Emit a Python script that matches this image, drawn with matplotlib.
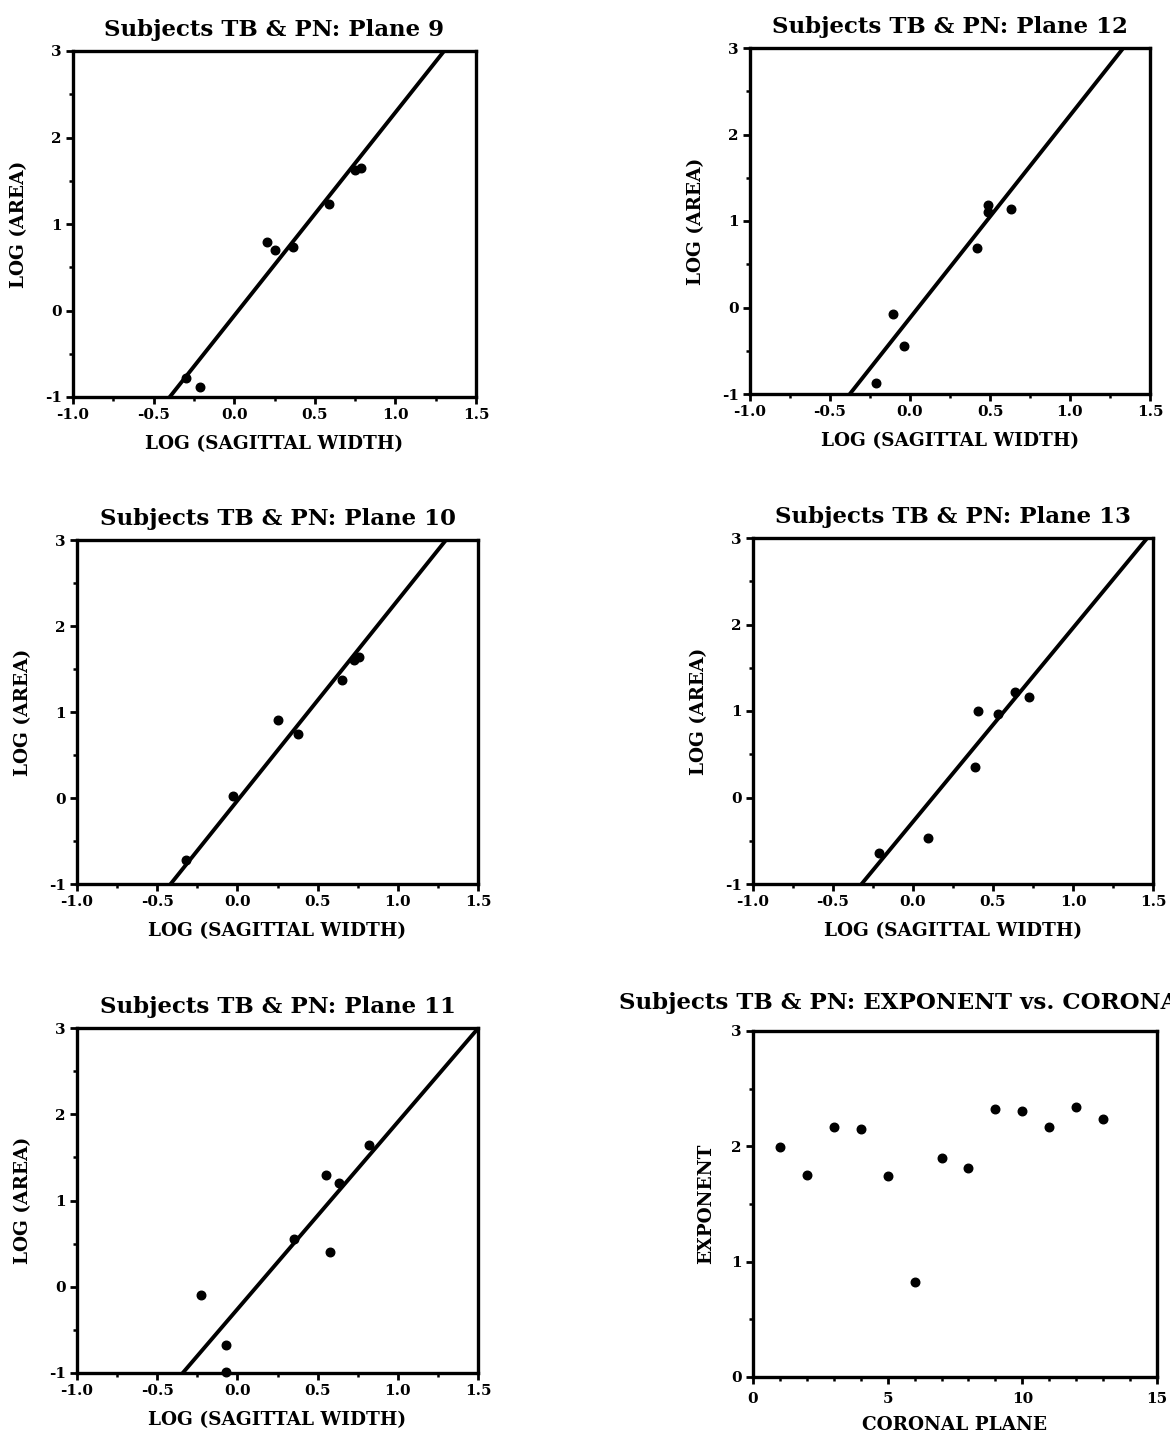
import matplotlib
matplotlib.use("Agg")
import matplotlib.pyplot as plt
import numpy as np
from matplotlib.ticker import MultipleLocator, FixedLocator

plt.rcParams['font.family'] = ['DejaVu Serif']
plt.rcParams['font.weight'] = 'bold'

# ---- data ----
p9_x = [-0.30, -0.215, 0.205, 0.25, 0.365, 0.59, 0.75, 0.785]
p9_y = [-0.78, -0.88, 0.79, 0.70, 0.73, 1.23, 1.62, 1.65]
p9_fit = [-0.06, 2.35]   # intercept, slope

p12_x = [-0.215, -0.105, -0.04, 0.42, 0.49, 0.49, 0.63]
p12_y = [-0.87, -0.07, -0.44, 0.69, 1.18, 1.10, 1.14]
p12_fit = [-0.12, 2.34]

p10_x = [-0.32, -0.025, 0.25, 0.375, 0.65, 0.73, 0.76]
p10_y = [-0.72, 0.02, 0.91, 0.75, 1.37, 1.60, 1.64]
p10_fit = [-0.03, 2.33]

p13_x = [-0.215, 0.095, 0.39, 0.405, 0.53, 0.635, 0.725]
p13_y = [-0.64, -0.47, 0.35, 1.00, 0.96, 1.22, 1.16]
p13_fit = [-0.28, 2.24]

p11_x = [-0.225, -0.07, -0.07, 0.355, 0.55, 0.58, 0.635, 0.82]
p11_y = [-0.09, -0.67, -0.99, 0.55, 1.30, 0.40, 1.20, 1.64]
p11_fit = [-0.26, 2.17]

planes = [1, 2, 3, 4, 5, 6, 7, 8, 9, 10, 11, 12, 13]
exponents = [1.99, 1.75, 2.17, 2.15, 1.74, 0.82, 1.90, 1.81, 2.32, 2.31, 2.17, 2.34, 2.24]

W, H = 1170, 1433
fig = plt.figure(figsize=(W / 100, H / 100), dpi=100)

def rect(x0, x1, ytop, ybot):
    return [x0 / W, (H - ybot) / H, (x1 - x0) / W, (ybot - ytop) / H]

TICKFS = 11
LABFS = 13.3
TITFS = 16.5

def style(ax):
    for s in ax.spines.values():
        s.set_linewidth(2.4)
    ax.tick_params(which='major', direction='out', length=5, width=2, labelsize=TICKFS, pad=3)
    ax.tick_params(which='minor', direction='out', length=3, width=1.8)
    for lab in ax.get_xticklabels() + ax.get_yticklabels():
        lab.set_fontweight('bold')

def log_panel(r, title, xs, ys, fit):
    ax = fig.add_axes(r)
    ax.set_xlim(-1.0, 1.5)
    ax.set_ylim(-1, 3)
    xx = np.linspace(-1.0, 1.5, 200)
    ax.plot(xx, fit[0] + fit[1] * xx, color='black', lw=2.8, zorder=2)
    ax.scatter(xs, ys, s=38, color='black', zorder=3, clip_on=False)
    ax.xaxis.set_major_locator(FixedLocator([-1.0, -0.5, 0.0, 0.5, 1.0, 1.5]))
    ax.xaxis.set_minor_locator(MultipleLocator(0.25))
    ax.yaxis.set_major_locator(FixedLocator([-1, 0, 1, 2, 3]))
    ax.yaxis.set_minor_locator(MultipleLocator(0.5))
    ax.set_xticklabels(['-1.0', '-0.5', '0.0', '0.5', '1.0', '1.5'])
    ax.set_yticklabels(['-1', '0', '1', '2', '3'])
    ax.set_title(title, fontsize=TITFS, fontweight='bold', pad=11)
    ax.set_xlabel('LOG (SAGITTAL WIDTH)', fontsize=LABFS, fontweight='bold', labelpad=9)
    ax.set_ylabel('LOG (AREA)', fontsize=LABFS, fontweight='bold', labelpad=12)
    style(ax)
    return ax

log_panel(rect(73, 476, 51, 397), 'Subjects TB & PN: Plane 9', p9_x, p9_y, p9_fit)
log_panel(rect(750, 1150, 48, 394), 'Subjects TB & PN: Plane 12', p12_x, p12_y, p12_fit)
log_panel(rect(77, 478, 540, 884), 'Subjects TB & PN: Plane 10', p10_x, p10_y, p10_fit)
log_panel(rect(753, 1153, 538, 884), 'Subjects TB & PN: Plane 13', p13_x, p13_y, p13_fit)
log_panel(rect(77, 478, 1028, 1373), 'Subjects TB & PN: Plane 11', p11_x, p11_y, p11_fit)

ax = fig.add_axes(rect(753, 1157, 1031, 1377))
ax.scatter(planes, exponents, s=38, color='black', zorder=3)
ax.set_xlim(0, 15)
ax.set_ylim(0, 3)
ax.xaxis.set_major_locator(FixedLocator([0, 5, 10, 15]))
ax.xaxis.set_minor_locator(MultipleLocator(1))
ax.yaxis.set_major_locator(FixedLocator([0, 1, 2, 3]))
ax.yaxis.set_minor_locator(MultipleLocator(0.5))
ax.set_title('Subjects TB & PN: EXPONENT vs. CORONAL PLANE', fontsize=TITFS, fontweight='bold', pad=16)
ax.set_xlabel('CORONAL PLANE', fontsize=LABFS, fontweight='bold', labelpad=7)
ax.set_ylabel('EXPONENT', fontsize=LABFS, fontweight='bold', labelpad=12)
style(ax)
ax.tick_params(axis='x', which='major', pad=6)

fig.savefig('out.png', dpi=100)
